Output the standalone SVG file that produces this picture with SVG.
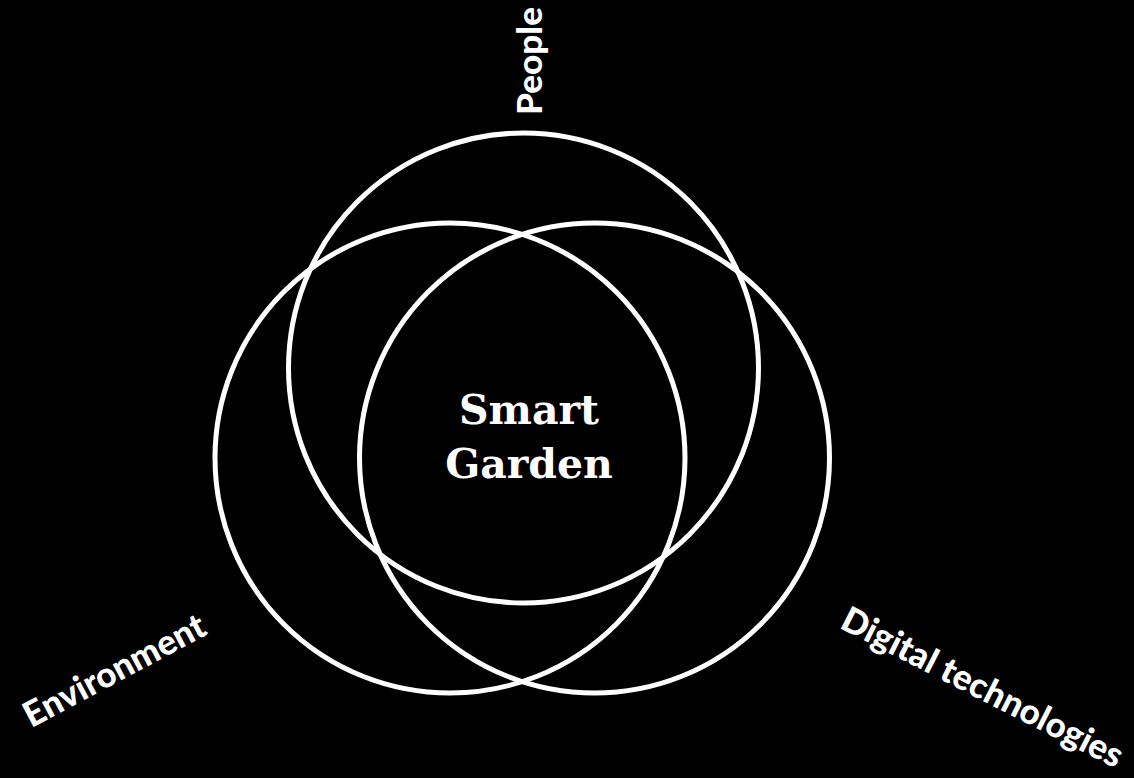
<svg xmlns="http://www.w3.org/2000/svg" width="1134" height="778" viewBox="0 0 1134 778">
<style>
.c{fill:none;stroke:#fff;stroke-width:5}
.l{font-family:Lato,"Open Sans",sans-serif;font-weight:900;font-size:35px;fill:#fff;text-anchor:middle}
.t{font-family:"DejaVu Serif","Liberation Serif",serif;font-weight:bold;font-size:41px;fill:#fff;text-anchor:middle}
</style>
<rect width="1134" height="778" fill="#000"/>
<g id="people"><circle class="c" cx="523.5" cy="368" r="235"/><text class="l" transform="translate(542,61) rotate(-90)">People</text></g>
<g id="environment"><circle class="c" cx="450" cy="458" r="235"/><text class="l" transform="translate(120,681) rotate(-28)">Environment</text></g>
<g id="digital"><circle class="c" cx="594.5" cy="458" r="235"/><text class="l" transform="translate(977,698) rotate(27)">Digital technologies</text></g>
<g id="center"><text class="t" x="529" y="424">Smart</text><text class="t" x="529" y="478">Garden</text></g>
<g id="connectors"></g>
</svg>
